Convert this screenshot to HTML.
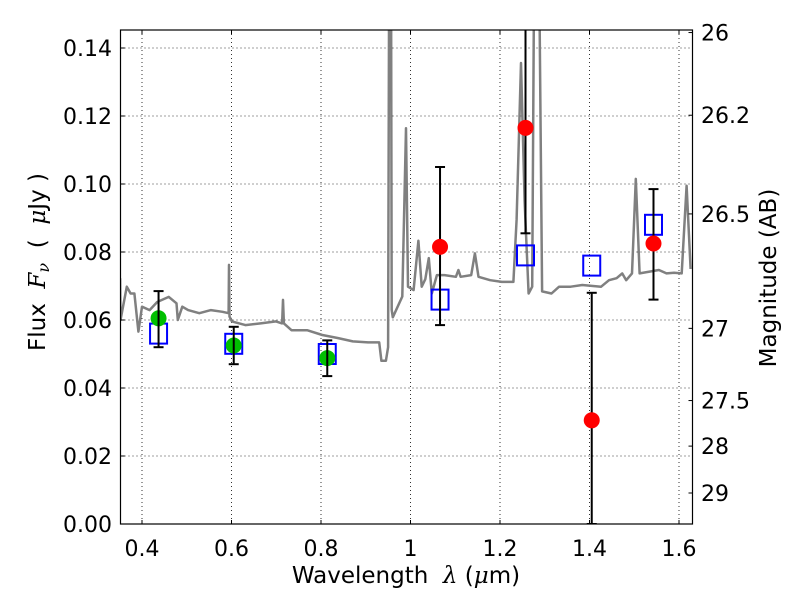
<!DOCTYPE html>
<html><head><meta charset="utf-8"><style>
body{margin:0;background:#fff;}
svg text{font-family:"DejaVu Sans","Liberation Sans",sans-serif;}
</style></head><body>
<svg id="chart" width="800" height="600" viewBox="0 0 800 600" xmlns="http://www.w3.org/2000/svg">
<rect width="800" height="600" fill="#fff"/>
<defs><clipPath id="clip"><rect x="120.5" y="30" width="572" height="494"/></clipPath></defs>
<g id="grid"></g>
<g id="spec" clip-path="url(#clip)"></g>
<g id="marks" clip-path="url(#clip)"></g>
<g id="axes"></g>
</svg>
<script>
const xTicks=[0.4,0.6,0.8,1.0,1.2,1.4,1.6];
const xTickLabels=["0.4","0.6","0.8","1","1.2","1.4","1.6"];
const yTicks=[0,0.02,0.04,0.06,0.08,0.10,0.12,0.14];
const yTickLabels=["0.00","0.02","0.04","0.06","0.08","0.10","0.12","0.14"];
const magTicks=[26,26.2,26.5,27,27.5,28,29];
const magTickLabels=["26","26.2","26.5","27","27.5","28","29"];
const specLambda=[0.351,0.352,0.366,0.3745,0.383,0.392,0.4,0.417,0.434,0.451,0.46,0.477,0.48,0.49,0.503,0.528,0.554,0.58,0.5935,0.5945,0.5955,0.601,0.631,0.665,0.6995,0.713,0.715,0.717,0.734,0.769,0.803,0.837,0.871,0.905,0.93,0.935,0.945,0.95,0.953,0.956,0.958,0.9605,0.9817,0.99,0.9945,1.007,1.0177,1.025,1.033,1.041,1.0475,1.059,1.076,1.1015,1.107,1.112,1.1357,1.144,1.152,1.178,1.204,1.23,1.237,1.247,1.255,1.264,1.272,1.278,1.285,1.294,1.315,1.332,1.358,1.384,1.426,1.4435,1.4605,1.473,1.482,1.495,1.5035,1.512,1.5375,1.555,1.572,1.589,1.606,1.617,1.626];
const specFlux=[0.0723,0.060,0.0698,0.0678,0.0678,0.0566,0.0639,0.0629,0.0653,0.0663,0.0668,0.0649,0.060,0.0639,0.0629,0.062,0.0629,0.0624,0.062,0.0762,0.061,0.0596,0.0585,0.059,0.0596,0.059,0.0659,0.059,0.057,0.057,0.0556,0.0547,0.0537,0.0534,0.0534,0.048,0.048,0.052,0.2,0.2,0.063,0.0608,0.0669,0.1164,0.0698,0.0688,0.0833,0.0698,0.072,0.0782,0.0678,0.0732,0.0732,0.0727,0.0747,0.0727,0.0732,0.0796,0.0727,0.0717,0.0712,0.0712,0.0895,0.1356,0.095,0.0678,0.0698,0.2,0.2,0.0684,0.0678,0.0698,0.0698,0.0703,0.0698,0.0717,0.0723,0.0737,0.0717,0.0737,0.1015,0.0737,0.0743,0.0747,0.0737,0.0739,0.0737,0.0995,0.075];
const greenX=[0.437,0.605,0.814];
const greenY=[0.0605,0.0525,0.0488];
const greenLo=[0.052,0.047,0.0435];
const greenHi=[0.0685,0.058,0.054];
const blueX=[0.437,0.605,0.814,1.066,1.257,1.405,1.543];
const blueY=[0.056,0.053,0.050,0.066,0.079,0.076,0.088];
const redX=[1.066,1.257,1.405,1.543];
const redY=[0.0815,0.1165,0.0305,0.0825];
const redLo=[0.0585,0.0855,0,0.068];
const redHi=[0.105,0.15,0.068,0.0985];
redLo[3]=0.066;

const NS="http://www.w3.org/2000/svg";
const L=120.5,R=692.5,T=30,B=524;
const X=v=>142+(v-0.4)*447.5;
const Y=v=>B-v*3400;
const magToFlux=m=>Math.pow(10,(23.9-m)/2.5);
function el(tag,attrs,parent){const e=document.createElementNS(NS,tag);for(const k in attrs)e.setAttribute(k,attrs[k]);parent.appendChild(e);return e;}
const grid=document.getElementById('grid'),spec=document.getElementById('spec'),marks=document.getElementById('marks'),axes=document.getElementById('axes');

xTicks.forEach((v,i)=>{
 const g=el('line',{x1:X(v),x2:X(v),y1:T,y2:B,stroke:'#000','stroke-width':0.8,'stroke-dasharray':'1,3'},grid);
 
 el('line',{x1:X(v),x2:X(v),y1:B,y2:B-4,stroke:'#000'},axes);
 el('line',{x1:X(v),x2:X(v),y1:T,y2:T+4,stroke:'#000'},axes);
 const t=el('text',{x:X(v),y:556,'font-size':22,'text-anchor':'middle'},axes);t.textContent=xTickLabels[i];
 
});
yTicks.forEach((v,i)=>{
 const g=el('line',{x1:L,x2:R,y1:Y(v),y2:Y(v),stroke:'#000','stroke-width':0.8,'stroke-dasharray':'1,3'},grid);
 
 el('line',{x1:L,x2:L+4,y1:Y(v),y2:Y(v),stroke:'#000'},axes);
 const t=el('text',{x:112,y:Y(v)+8,'font-size':22,'text-anchor':'end'},axes);t.textContent=yTickLabels[i];
 
});
magTicks.forEach((m,i)=>{
 const y=Y(magToFlux(m));
 el('line',{x1:R-4,x2:R,y1:y,y2:y,stroke:'#000'},axes);
 const t=el('text',{x:701,y:y+8,'font-size':22},axes);t.textContent=magTickLabels[i];
 
});
const pts=specLambda.map((l,i)=>X(l).toFixed(1)+','+Y(Math.min(specFlux[i],0.2)).toFixed(1)).join(' ');
const sp=el('polyline',{points:pts,fill:'none',stroke:'#808080','stroke-width':2.5,'stroke-linejoin':'round'},spec);


function errbar(x,lo,hi){
 const g=el('g',{},marks);
 
 el('line',{x1:X(x),x2:X(x),y1:Y(lo),y2:Y(hi),stroke:'#000','stroke-width':2},g);
 el('line',{x1:X(x)-5,x2:X(x)+5,y1:Y(lo),y2:Y(lo),stroke:'#000','stroke-width':2},g);
 el('line',{x1:X(x)-5,x2:X(x)+5,y1:Y(hi),y2:Y(hi),stroke:'#000','stroke-width':2},g);
}
blueX.forEach((x,i)=>{
 const r=el('rect',{x:X(x)-8.5,y:Y(blueY[i])-10,width:17,height:20,fill:'none',stroke:'#0000ff','stroke-width':2},marks);
 
});
greenX.forEach((x,i)=>{
 const c=el('circle',{cx:X(x),cy:Y(greenY[i]),r:8,fill:'#00bf00'},marks);
 
 errbar(x,greenLo[i],greenHi[i]);
});
redX.forEach((x,i)=>{
 errbar(x,redLo[i],redHi[i]);
 const c=el('circle',{cx:X(x),cy:Y(redY[i]),r:8,fill:'#ff0000'},marks);
 
});
const fr=el('rect',{x:L,y:T,width:R-L,height:B-T,fill:'none',stroke:'#000','stroke-width':1.2},axes);

</script>
<svg style="position:absolute;left:0;top:0" width="800" height="600">
<text x="406" y="583" font-size="23" text-anchor="middle" font-family="DejaVu Sans, sans-serif">Wavelength&#160;&#160;<tspan font-family="DejaVu Serif, serif" font-style="italic">λ</tspan> (<tspan font-family="DejaVu Serif, serif" font-style="italic">μ</tspan>m)</text>
<text transform="translate(45,262) rotate(-90)" font-size="23" text-anchor="middle" font-family="DejaVu Sans, sans-serif">Flux&#160;&#160;<tspan font-family="DejaVu Serif, serif" font-style="italic">F</tspan><tspan font-family="DejaVu Serif, serif" font-style="italic" font-size="16" dy="4">ν</tspan><tspan dy="-4">&#160;&#160;(&#160;&#160;</tspan><tspan font-family="DejaVu Serif, serif" font-style="italic">μ</tspan>Jy )</text>
<text transform="translate(776,278) rotate(-90)" font-size="23" text-anchor="middle" font-family="DejaVu Sans, sans-serif">Magnitude (AB)</text>
</svg>
</body></html>
